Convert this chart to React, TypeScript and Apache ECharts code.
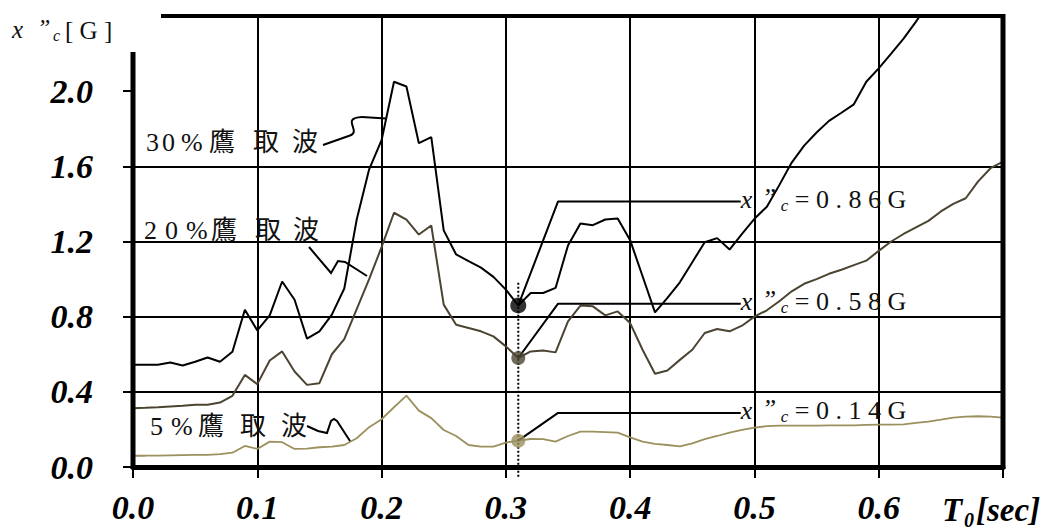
import { useEffect, useRef } from "react";
import * as echarts from "echarts";

// Response spectra sampled every 0.01 s of natural period T0
const T_STEP = 0.01;

// 30% 鷹取波 (G)
const takatori30 = [
  0.544, 0.544, 0.544, 0.556, 0.54, 0.56, 0.583, 0.56, 0.613, 0.837,
  0.727, 0.807, 0.987, 0.89, 0.683, 0.722, 0.811, 0.95, 1.317, 1.584,
  1.739, 2.05, 2.025, 1.723, 1.755, 1.259, 1.131, 1.095, 1.061, 1.012,
  0.944, 0.86, 0.926, 0.926, 0.953, 1.179, 1.296, 1.287, 1.317, 1.323,
  1.207, 1.015, 0.823, 0.9, 0.983, 1.09, 1.196, 1.218, 1.157, 1.24,
  1.321, 1.385, 1.5, 1.62, 1.71, 1.78, 1.842, 1.885, 1.93, 2.05,
  2.121, 2.2, 2.28, 2.37, 2.47,
];

// 20% 鷹取波 (G)
const takatori20 = [
  0.313, 0.315, 0.318, 0.322, 0.326, 0.331, 0.331, 0.343, 0.379, 0.49,
  0.441, 0.567, 0.615, 0.508, 0.437, 0.446, 0.6, 0.68, 0.84, 1.0,
  1.17, 1.353, 1.317, 1.237, 1.285, 0.864, 0.757, 0.74, 0.722, 0.695,
  0.642, 0.58, 0.615, 0.62, 0.61, 0.775, 0.859, 0.855, 0.807, 0.828,
  0.766, 0.624, 0.496, 0.514, 0.57, 0.624, 0.713, 0.734, 0.722, 0.752,
  0.8, 0.834, 0.882, 0.935, 0.975, 1.0, 1.028, 1.05, 1.074, 1.098,
  1.15, 1.2, 1.24, 1.275, 1.31, 1.36, 1.4, 1.43, 1.52, 1.59,
  1.625,
];

// 5% 鷹取波 (G)
const takatori5 = [
  0.06, 0.06, 0.061, 0.062, 0.063, 0.064, 0.064, 0.068, 0.076, 0.112,
  0.096, 0.135, 0.132, 0.096, 0.098, 0.105, 0.108, 0.117, 0.153, 0.212,
  0.254, 0.318, 0.38, 0.3, 0.26, 0.197, 0.165, 0.117, 0.108, 0.108,
  0.13, 0.14, 0.149, 0.148, 0.135, 0.165, 0.188, 0.188, 0.186, 0.183,
  0.158, 0.135, 0.123, 0.117, 0.11, 0.126, 0.148, 0.165, 0.183, 0.197,
  0.21, 0.217, 0.22, 0.22, 0.22, 0.22, 0.221, 0.221, 0.222, 0.224,
  0.226, 0.226, 0.227, 0.235, 0.242, 0.252, 0.263, 0.268, 0.27, 0.268,
  0.263,
];

const waves = [takatori30, takatori20, takatori5];
const curveColors = ["#000000", "#4b4431", "#9b905e"];
const markerSizes = [16, 14, 14];

// Peak values read at T0 = 0.31 s
const pickPeriod = 0.31;
const pickPeaks = [0.86, 0.58, 0.14];
const pickTexts = ["= 0 . 8 6 G", "= 0 . 5 8 G", "= 0 . 1 4 G"];
const leaderLevels = [1.413, 0.869, 0.288];
const leaderKnee = 0.342;
const leaderEnd = 0.489;
const dropTop = 0.98;
const dropBottom = -0.06;

const xMax = 0.7;
const yMax = 2.4;
const yTicks = [0, 0.4, 0.8, 1.2, 1.6, 2.0];

// Curve captions, drawn one glyph at a time with their spacing
const captions = [
  { chars: ["3", "0", "%", "鷹", "取", "波"], xs: [146, 162, 181, 209, 253, 292], y: 142 },
  { chars: ["2", "0", "%", "鷹", "取", "波"], xs: [144, 165, 186, 211, 255, 293], y: 230 },
  { chars: ["5", "%", "鷹", "取", "波"], xs: [150, 171, 198, 240, 281], y: 426 },
];

const SERIF = "'Liberation Serif', 'Times New Roman', 'Noto Sans CJK JP', serif";
const W = 1047;
const H = 532;
const GRID = { left: 133, top: 16, right: 44, bottom: 65 };

const toPairs = (vals: number[]) =>
  vals.map((v, i) => [Number((i * T_STEP).toFixed(2)), v]);

function txt(
  text: string,
  x: number,
  y: number,
  size: number,
  extra: Record<string, any> = {}
) {
  return {
    type: "text",
    x,
    y,
    z: 120,
    silent: true,
    style: {
      text,
      fontSize: size,
      fontFamily: SERIF,
      fill: "#111",
      align: "left",
      verticalAlign: "middle",
      textAlign: "left",
      textVerticalAlign: "middle",
      ...extra,
    },
  };
}

function seg(x1: number, y1: number, x2: number, y2: number, w: number) {
  return {
    type: "line",
    z: 110,
    silent: true,
    shape: { x1, y1, x2, y2 },
    style: { stroke: "#000", lineWidth: w },
  };
}

export default function App() {
  const ref = useRef<HTMLDivElement>(null);

  useEffect(() => {
    document.body.style.margin = "0";
    const chart = echarts.init(ref.current!, null, { renderer: "svg" });

    const axisFont = {
      fontSize: 34,
      fontWeight: "bold",
      fontStyle: "italic",
      fontFamily: SERIF,
      color: "#000",
    };
    const thin = { color: "#000", width: 2 };

    const series: any[] = [];
    waves.forEach((w, i) => {
      series.push({
        type: "line",
        data: toPairs(w),
        symbol: "none",
        silent: true,
        z: 3,
        lineStyle: { color: curveColors[i], width: i === 2 ? 1.8 : 2 },
      });
    });
    leaderLevels.forEach((lv, i) => {
      series.push({
        type: "line",
        data: [
          [pickPeriod, pickPeaks[i]],
          [leaderKnee, lv],
          [leaderEnd, lv],
        ],
        symbol: "none",
        silent: true,
        z: 4,
        lineStyle: { color: "#000", width: 2 },
      });
    });
    series.push({
      type: "line",
      data: [
        [pickPeriod, dropTop],
        [pickPeriod, dropBottom],
      ],
      clip: false,
      symbol: "none",
      silent: true,
      z: 4,
      lineStyle: { color: "#000", width: 2, type: [2, 2] },
    });
    series.push({
      type: "scatter",
      silent: true,
      z: 6,
      data: pickPeaks.map((v, i) => ({
        value: [pickPeriod, v],
        symbolSize: markerSizes[i],
        itemStyle: { color: curveColors[i] },
      })),
    });

    chart.setOption({
      animation: false,
      backgroundColor: "#ffffff",
      grid: { ...GRID, containLabel: false },
      xAxis: {
        type: "value",
        min: 0,
        max: xMax,
        interval: 0.1,
        axisLine: { show: true, onZero: false, lineStyle: { color: "#000", width: 5 } },
        axisTick: { show: true, length: 11, lineStyle: thin },
        axisLabel: {
          ...axisFont,
          margin: 23,
          showMinLabel: true,
          showMaxLabel: true,
          formatter: (v: number) => (v > xMax - 0.01 ? "" : v.toFixed(1)),
        },
        splitLine: { show: true, showMinLine: false, showMaxLine: false, lineStyle: thin },
      },
      yAxis: {
        type: "value",
        min: 0,
        max: yMax,
        interval: 0.4,
        axisLine: { show: false },
        axisTick: { show: true, length: 10, customValues: yTicks, lineStyle: thin },
        axisLabel: {
          ...axisFont,
          margin: 40,
          customValues: yTicks,
          formatter: (v: number) => (v > 2.2 ? "" : v.toFixed(1)),
        },
        splitLine: { show: true, showMinLine: false, showMaxLine: false, lineStyle: thin },
      },
      series,
    });

    const left = GRID.left;
    const right = W - GRID.right;
    const top = GRID.top;
    const bottom = H - GRID.bottom;

    const elements: any[] = [
      // frame: left axis, top and right borders
      seg(left, 52, left, bottom + 2, 5),
      seg(161, top, right + 2, top, 4),
      seg(right, top - 2, right, bottom + 2, 5),

      // y-axis title  x″c [ G ]
      txt("x", 12, 29, 25, { fontStyle: "italic" }),
      txt("”", 37, 27, 24, { fontStyle: "italic" }),
      txt("c", 53, 35, 16, { fontStyle: "italic" }),
      txt("[ G ]", 65, 30, 25),

      // x-axis title  T0[sec]
      txt("T", 942, 510, 33, { fontStyle: "italic", fontWeight: "bold", fill: "#000" }),
      txt("0", 964, 520, 20, { fontStyle: "italic", fontWeight: "bold", fill: "#000" }),
      txt("[sec]", 976, 510, 33, { fontStyle: "italic", fontWeight: "bold", fill: "#000" }),

      // caption leaders
      seg(323, 145, 350, 135.5, 2),
      {
        type: "bezierCurve",
        z: 110,
        silent: true,
        shape: { x1: 350, y1: 135.5, cpx1: 362, cpy1: 131, cpx2: 340, cpy2: 118, x2: 362, y2: 117 },
        style: { stroke: "#000", lineWidth: 2, fill: "none" },
      },
      seg(362, 117, 386, 118.5, 2),
      {
        type: "polyline",
        z: 110,
        silent: true,
        shape: { points: [[309, 247], [331, 273], [338, 261], [345, 262], [367, 276]] },
        style: { stroke: "#000", lineWidth: 2, fill: "none" },
      },
      {
        type: "polyline",
        z: 110,
        silent: true,
        shape: {
          points: [[307, 426], [318, 431], [327, 433], [331, 421], [334, 419], [337, 421], [350, 441]],
        },
        style: { stroke: "#000", lineWidth: 2, fill: "none" },
      },
    ];

    captions.forEach((c) => {
      c.chars.forEach((ch, k) => {
        elements.push(txt(ch, c.xs[k], c.y, 26));
      });
    });

    // peak value labels at the end of each leader
    leaderLevels.forEach((lv, i) => {
      const [px, py] = chart.convertToPixel({ gridIndex: 0 }, [leaderEnd, lv]) as number[];
      elements.push({
        type: "group",
        x: px,
        y: py,
        children: [
          txt("x", 0, -2, 26, { fontStyle: "italic" }),
          txt("”", 21, -4, 26, { fontStyle: "italic" }),
          txt("c", 40, 4, 17, { fontStyle: "italic" }),
          txt(pickTexts[i], 54, -2, 26),
        ],
      });
    });

    chart.setOption({ graphic: { elements } });

    return () => chart.dispose();
  }, []);

  return <div ref={ref} style={{ width: W, height: H }} />;
}
